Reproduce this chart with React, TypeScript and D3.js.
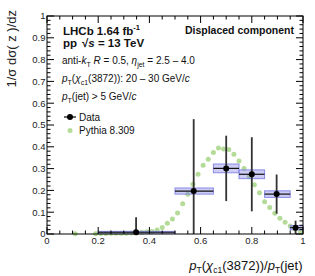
import * as d3 from "d3";

const W = 315;
const H = 276;
const FONT = "'Liberation Sans', Arial, Helvetica, sans-serif";

// Data (LHCb, displaced component)
const binLo = [0.2, 0.5, 0.65, 0.75, 0.85, 0.95];
const binHi = [0.5, 0.65, 0.75, 0.85, 0.95, 1.0];
const dataX = [0.348, 0.573, 0.7, 0.8, 0.897, 0.971];
const dataY = [0.008, 0.197, 0.301, 0.274, 0.183, 0.029];
const statErr = [0.069, 0.33, 0.15, 0.17, 0.09, 0.032];
const systErr = [0.004, 0.014, 0.02, 0.02, 0.015, 0.01];

// Pythia 8.309
const pythiaX = [
  0.11, 0.19, 0.21, 0.23, 0.25, 0.27, 0.29, 0.31, 0.33, 0.35, 0.37, 0.39,
  0.41, 0.43, 0.45, 0.47, 0.49, 0.51, 0.53, 0.55, 0.57, 0.59, 0.61, 0.63,
  0.65, 0.67, 0.69, 0.71, 0.73, 0.75, 0.77, 0.79, 0.81, 0.83, 0.85, 0.87,
  0.89, 0.91, 0.93, 0.95, 0.97, 0.99,
];
const pythiaY = [
  0.001, 0.001, 0.002, 0.002, 0.003, 0.003, 0.004, 0.004, 0.005, 0.006,
  0.008, 0.01, 0.012, 0.018, 0.03, 0.049, 0.069, 0.096, 0.139, 0.182, 0.228,
  0.274, 0.315, 0.343, 0.374, 0.395, 0.39, 0.388, 0.366, 0.335, 0.301, 0.263,
  0.226, 0.189, 0.148, 0.121, 0.095, 0.072, 0.054, 0.037, 0.023, 0.011,
];

const xTicks = [0, 0.2, 0.4, 0.6, 0.8, 1];
const yTicks = [0, 0.1, 0.2, 0.3, 0.4, 0.5, 0.6, 0.7, 0.8, 0.9, 1];

const PLOT = { left: 47, right: 303, top: 16, bottom: 234 };

export default function App() {
  const x = d3.scaleLinear().domain([0, 1]).range([PLOT.left, PLOT.right]);
  const y = d3.scaleLinear().domain([0, 1]).range([PLOT.bottom, PLOT.top]);
  const cy = (v: number) => y(Math.max(0, Math.min(1, v)));

  const xMinor = d3.range(0, 1.0001, 0.05);
  const yMinor = d3.range(0, 1.0001, 0.02);
  const isMajor = (v: number, step: number) =>
    Math.abs(v / step - Math.round(v / step)) < 1e-6;

  const green = "#b4dc98";

  return (
    <svg
      width={W}
      height={H}
      style={{ position: "absolute", left: 0, top: 0, background: "#fff" }}
      fontFamily={FONT}
    >
      {/* Pythia */}
      {pythiaX.map((px, i) => (
        <circle key={"p" + i} cx={x(px)} cy={y(pythiaY[i])} r={2.5} fill={green} />
      ))}

      {/* systematic boxes */}
      {dataY.map((v, i) => (
        <rect
          key={"s" + i}
          x={x(binLo[i])}
          y={y(v + systErr[i])}
          width={x(binHi[i]) - x(binLo[i])}
          height={y(v - systErr[i]) - y(v + systErr[i])}
          fill="rgba(110,110,225,0.35)"
          stroke="#8a8ae6"
          strokeWidth={1}
        />
      ))}

      {/* stat errors */}
      {dataY.map((v, i) => (
        <g key={"e" + i}>
          <line
            x1={x(dataX[i])}
            x2={x(dataX[i])}
            y1={cy(v + statErr[i])}
            y2={cy(v - statErr[i])}
            stroke="#333"
            strokeWidth={1.8}
          />
          <line
            x1={x(binLo[i])}
            x2={x(binHi[i])}
            y1={y(v)}
            y2={y(v)}
            stroke="#111"
            strokeWidth={1.2}
          />
          <circle cx={x(dataX[i])} cy={y(v)} r={3} fill="#000" />
        </g>
      ))}

      {/* frame */}
      <rect
        x={PLOT.left}
        y={PLOT.top}
        width={PLOT.right - PLOT.left}
        height={PLOT.bottom - PLOT.top}
        fill="none"
        stroke="#000"
        strokeWidth={1}
      />

      {/* x ticks, bottom and top */}
      {xMinor.map((v, i) => {
        const len = isMajor(v, 0.2) ? 7 : 3.5;
        return (
          <g key={"xt" + i} stroke="#000" strokeWidth={1}>
            <line x1={x(v)} x2={x(v)} y1={PLOT.bottom} y2={PLOT.bottom - len} />
            <line x1={x(v)} x2={x(v)} y1={PLOT.top} y2={PLOT.top + len} />
          </g>
        );
      })}
      {/* y ticks, left and right */}
      {yMinor.map((v, i) => {
        const len = isMajor(v, 0.1) ? 7 : 3.5;
        return (
          <g key={"yt" + i} stroke="#000" strokeWidth={1}>
            <line x1={PLOT.left} x2={PLOT.left + len} y1={y(v)} y2={y(v)} />
            <line x1={PLOT.right} x2={PLOT.right - len} y1={y(v)} y2={y(v)} />
          </g>
        );
      })}

      {/* tick labels */}
      {xTicks.map((v) => (
        <text
          key={"xl" + v}
          x={x(v)}
          y={243.5}
          fontSize={9.5}
          textAnchor="middle"
          fill="#222"
        >
          {d3.format("~g")(v)}
        </text>
      ))}
      {yTicks.map((v) => (
        <text
          key={"yl" + v}
          x={45.5}
          y={y(v) + 3.3}
          fontSize={9.5}
          textAnchor="end"
          fill="#222"
        >
          {d3.format("~g")(v)}
        </text>
      ))}

      {/* axis titles */}
      <text
        transform="translate(16,10) rotate(-90)"
        fontSize={13}
        textAnchor="end"
        fill="#222"
      >
        1/σ dσ( z )/dz
      </text>
      <text x={302.5} y={270} fontSize={13} textAnchor="end" fill="#111">
        <tspan fontStyle="italic">p</tspan>
        <tspan fontSize={8.5} dy={3}>T</tspan>
        <tspan dy={-3}>(</tspan>
        <tspan fontStyle="italic">χ</tspan>
        <tspan fontSize={8.5} dy={3}>c1</tspan>
        <tspan dy={-3}>(3872))/</tspan>
        <tspan fontStyle="italic">p</tspan>
        <tspan fontSize={8.5} dy={3}>T</tspan>
        <tspan dy={-3}>(jet)</tspan>
      </text>

      {/* labels */}
      <text x={63} y={34.5} fontSize={11.5} fontWeight="bold" fill="#111">
        LHCb 1.64 fb
        <tspan fontSize={7.5} dy={-5}>-1</tspan>
      </text>
      <text x={63} y={46.5} fontSize={11.5} fontWeight="bold" fill="#111">
        pp
        <tspan x={82}>√</tspan>
        <tspan fontStyle="italic">s</tspan>
        <tspan> = 13 TeV</tspan>
      </text>
      <text x={294} y={33.5} fontSize={10.5} fontWeight="bold" textAnchor="end" fill="#111">
        Displaced component
      </text>
      <text x={62} y={64} fontSize={10} fill="#111">
        anti-
        <tspan fontStyle="italic">k</tspan>
        <tspan fontSize={7} dy={2.5}>T</tspan>
        <tspan dy={-2.5}> </tspan>
        <tspan fontStyle="italic">R</tspan>
        <tspan> = 0.5, </tspan>
        <tspan fontStyle="italic">η</tspan>
        <tspan fontSize={7} dy={2.5}>jet</tspan>
        <tspan dy={-2.5}> = 2.5 – 4.0</tspan>
      </text>
      <text x={62} y={82} fontSize={10} fill="#111">
        <tspan fontStyle="italic">p</tspan>
        <tspan fontSize={7} dy={2.5}>T</tspan>
        <tspan dy={-2.5}>(</tspan>
        <tspan fontStyle="italic">χ</tspan>
        <tspan fontSize={7} dy={2.5}>c1</tspan>
        <tspan dy={-2.5}>(3872)): 20 – 30 GeV/</tspan>
        <tspan fontStyle="italic">c</tspan>
      </text>
      <text x={62} y={100} fontSize={10} fill="#111">
        <tspan fontStyle="italic">p</tspan>
        <tspan fontSize={7} dy={2.5}>T</tspan>
        <tspan dy={-2.5}>(jet) &gt; 5 GeV/</tspan>
        <tspan fontStyle="italic">c</tspan>
      </text>

      {/* legend */}
      <line x1={64} x2={76} y1={117} y2={117} stroke="#000" strokeWidth={1.2} />
      <circle cx={70} cy={117} r={3} fill="#000" />
      <text x={79} y={120.5} fontSize={10} fill="#111">Data</text>
      <circle cx={70} cy={130.5} r={2.5} fill={green} />
      <text x={79} y={134} fontSize={10} fill="#111">Pythia 8.309</text>
    </svg>
  );
}
